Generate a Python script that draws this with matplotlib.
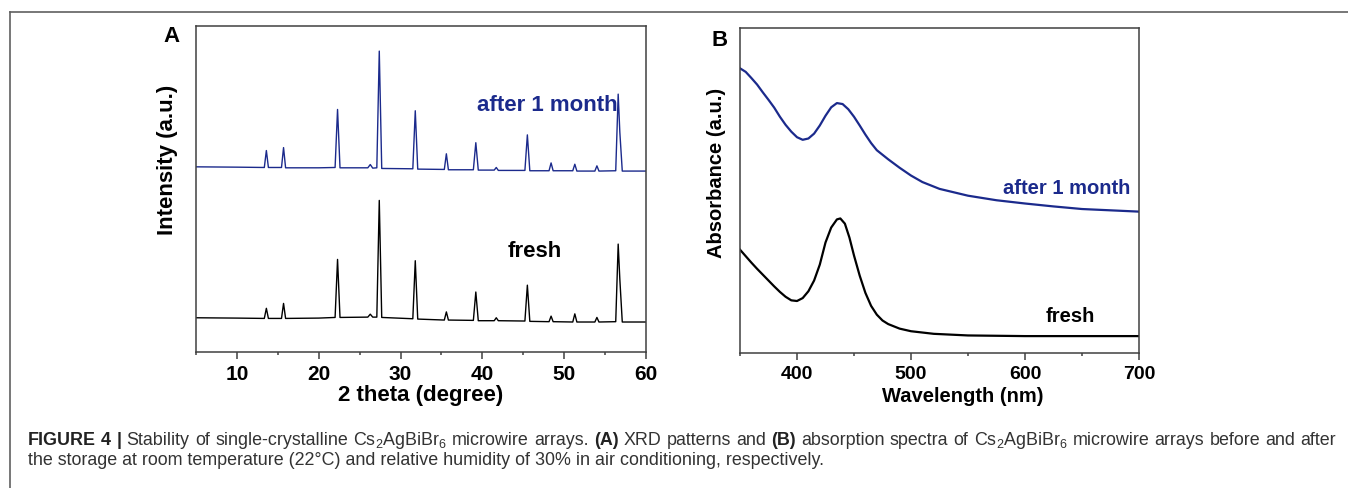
import matplotlib
matplotlib.use("Agg")
import matplotlib.pyplot as plt
from matplotlib.lines import Line2D
from matplotlib.ticker import MultipleLocator

# XRD patterns (2 theta in degree, intensity in arbitrary units)
xrd_2theta = [5.0, 10.0, 13.35, 13.6, 13.85, 15.45, 15.7, 15.95, 20.0, 22.0, 22.3, 22.6,
              26.0, 26.3, 26.6, 27.1, 27.4, 27.7, 31.5, 31.8, 32.1, 35.35, 35.6, 35.85,
              38.9, 39.2, 39.5, 41.45, 41.7, 41.95, 45.2, 45.5, 45.8, 48.15, 48.4, 48.65,
              51.05, 51.3, 51.55, 53.75, 54.0, 54.25, 56.3, 56.6, 56.8, 57.1, 60.0]
xrd_fresh = [10.5, 10.4, 10.3, 13.4, 10.3, 10.3, 14.9, 10.3, 10.4, 10.6, 28.4, 10.6,
             10.7, 11.6, 10.7, 10.7, 46.5, 10.6, 10.2, 28.0, 10.1, 9.8, 12.3, 9.8,
             9.7, 18.4, 9.6, 9.6, 10.5, 9.6, 9.5, 20.5, 9.4, 9.3, 11.0, 9.3,
             9.2, 11.7, 9.2, 9.2, 10.6, 9.2, 9.3, 33.1, 22.4, 9.2, 9.2]
xrd_aged = [56.8, 56.7, 56.6, 61.8, 56.6, 56.6, 62.7, 56.5, 56.5, 56.6, 74.4, 56.5,
            56.5, 57.5, 56.4, 56.5, 92.3, 56.3, 56.2, 74.0, 56.1, 56.0, 60.8, 55.9,
            55.9, 64.2, 55.8, 55.8, 56.6, 55.7, 55.7, 66.6, 55.6, 55.6, 58.0, 55.6,
            55.6, 57.6, 55.5, 55.5, 57.1, 55.5, 55.6, 79.1, 67.5, 55.5, 55.5]

# absorption spectra (wavelength in nm, absorbance in arbitrary units)
wl_aged = [350, 355, 360, 365, 370, 375, 380, 385, 390, 395, 400, 405, 410, 415, 420,
           425, 430, 435, 440, 445, 450, 455, 460, 465, 470, 480, 490, 500, 510, 525,
           550, 575, 600, 625, 650, 675, 700]
abs_aged = [87.6, 86.5, 84.6, 82.6, 80.2, 77.9, 75.5, 72.7, 70.2, 68.1, 66.4, 65.6,
            66.0, 67.5, 70.0, 73.0, 75.6, 76.9, 76.6, 75.0, 72.7, 70.0, 67.2, 64.6,
            62.4, 59.6, 57.0, 54.6, 52.6, 50.5, 48.4, 47.0, 46.0, 45.1, 44.3, 43.9, 43.5]
wl_fresh = [350, 355, 360, 365, 370, 375, 380, 385, 390, 395, 400, 405, 410, 415, 420,
            425, 430, 435, 438, 442, 446, 450, 455, 460, 465, 470, 475, 480, 490, 500,
            520, 550, 600, 700]
abs_fresh = [31.8, 29.8, 27.8, 25.9, 24.1, 22.3, 20.5, 18.8, 17.3, 16.2, 16.0, 16.9,
             19.0, 22.3, 27.2, 34.0, 38.6, 41.1, 41.4, 39.8, 35.5, 30.0, 23.8, 18.5,
             14.5, 11.8, 10.0, 8.9, 7.5, 6.7, 5.9, 5.4, 5.2, 5.2]

BLUE = "#1b2a8c"
SPINE = "#404040"
W, H = 1348, 489

plt.rcParams["font.family"] = ["Liberation Sans", "DejaVu Sans"]
plt.rcParams["mathtext.fontset"] = "custom"
plt.rcParams["mathtext.rm"] = "Liberation Sans"
plt.rcParams["mathtext.bf"] = "Liberation Sans:bold"

fig = plt.figure(figsize=(W / 100, H / 100), dpi=100)


def px_axes(x0, y0, x1, y1):
    return fig.add_axes([x0 / W, 1 - y1 / H, (x1 - x0) / W, (y1 - y0) / H])


def style(ax, fs):
    for s in ax.spines.values():
        s.set_color(SPINE)
        s.set_linewidth(1.1)
    ax.tick_params(axis="x", which="major", direction="out", length=5, width=1.1,
                   color=SPINE, pad=3.5, labelsize=fs)
    ax.tick_params(axis="x", which="minor", direction="out", length=2.5, width=1.1,
                   color=SPINE)
    ax.set_yticks([])
    for lbl in ax.get_xticklabels():
        lbl.set_fontweight("bold")


# panel A
axA = px_axes(196, 27, 646, 353)
axA.plot(xrd_2theta, xrd_aged, color=BLUE, lw=1.0)
axA.plot(xrd_2theta, xrd_fresh, color="black", lw=1.0)
axA.set_xlim(5, 60)
axA.set_ylim(0, 100)
axA.xaxis.set_minor_locator(MultipleLocator(5))
axA.set_xticks([10, 20, 30, 40, 50, 60])
style(axA, 15)
axA.text(39.3, 76, "after 1 month", color=BLUE, fontsize=16, fontweight="bold",
         ha="left", va="center")
axA.text(43.1, 31, "fresh", color="black", fontsize=16, fontweight="bold",
         ha="left", va="center")

# panel B
axB = px_axes(740, 29, 1139, 354)
axB.plot(wl_aged, abs_aged, color=BLUE, lw=1.6)
axB.plot(wl_fresh, abs_fresh, color="black", lw=1.6)
axB.set_xlim(350, 700)
axB.set_ylim(0, 100)
axB.set_xticks([400, 500, 600, 700])
axB.xaxis.set_minor_locator(MultipleLocator(50))
style(axB, 14)
axB.text(580.7, 50.8, "after 1 month", color=BLUE, fontsize=14.5, fontweight="bold",
         ha="left", va="center")
axB.text(618.4, 11.4, "fresh", color="black", fontsize=14.5, fontweight="bold",
         ha="left", va="center")

# axis labels and panel letters
fig.text(421 / W, 1 - 395 / H, "2 theta (degree)", fontsize=16, fontweight="bold",
         ha="center", va="center")
fig.text(168 / W, 1 - 160 / H, "Intensity (a.u.)", fontsize=16, fontweight="bold",
         rotation=90, ha="center", va="center")
fig.text(963 / W, 1 - 397 / H, "Wavelength (nm)", fontsize=14.5, fontweight="bold",
         ha="center", va="center")
fig.text(717 / W, 1 - 173 / H, "Absorbance (a.u.)", fontsize=14.5, fontweight="bold",
         rotation=90, ha="center", va="center")
fig.text(171 / W, 1 - 37 / H, "A", fontsize=16, fontweight="bold", ha="center", va="center")
fig.text(720 / W, 1 - 40 / H, "B", fontsize=16, fontweight="bold", ha="center", va="center")

# frame lines (left and top only)
fig.add_artist(Line2D([10 / W, 10 / W], [0, 1 - 13 / H], color="#606060", lw=1.2))
fig.add_artist(Line2D([10 / W, 1], [1 - 13 / H, 1 - 13 / H], color="#606060", lw=1.2))

# caption, first line justified word by word
CAP_FS = 12.9
cap1_words = [("FIGURE", "bold"), ("4", "bold"), ("|", "bold"), ("Stability", "normal"),
              ("of", "normal"), ("single-crystalline", "normal"),
              ("Cs$_2$AgBiBr$_6$", "normal"), ("microwire", "normal"), ("arrays.", "normal"),
              ("(A)", "bold"), ("XRD", "normal"), ("patterns", "normal"), ("and", "normal"),
              ("(B)", "bold"), ("absorption", "normal"), ("spectra", "normal"),
              ("of", "normal"), ("Cs$_2$AgBiBr$_6$", "normal"), ("microwire", "normal"),
              ("arrays", "normal"), ("before", "normal"), ("and", "normal"),
              ("after", "normal")]
cap2 = ("the storage at room temperature (22°C) and relative humidity of 30% in air "
        "conditioning, respectively.")
x_left, x_right = 28, 1336
renderer = fig.canvas.get_renderer()
pieces = []
for word, weight in cap1_words:
    col = "#222222" if weight == "bold" else "#333333"
    t = fig.text(0, 1 - 445 / H, word, fontsize=CAP_FS, fontweight=weight, color=col,
                 ha="left", va="baseline")
    pieces.append((t, t.get_window_extent(renderer).width))
gap = (x_right - x_left - sum(w for _, w in pieces)) / (len(pieces) - 1)
x = x_left
for t, w in pieces:
    t.set_x(x / W)
    x += w + gap
fig.text(x_left / W, 1 - 465 / H, cap2, fontsize=CAP_FS, color="#333333",
         ha="left", va="baseline")

fig.savefig("out.png", dpi=100)
